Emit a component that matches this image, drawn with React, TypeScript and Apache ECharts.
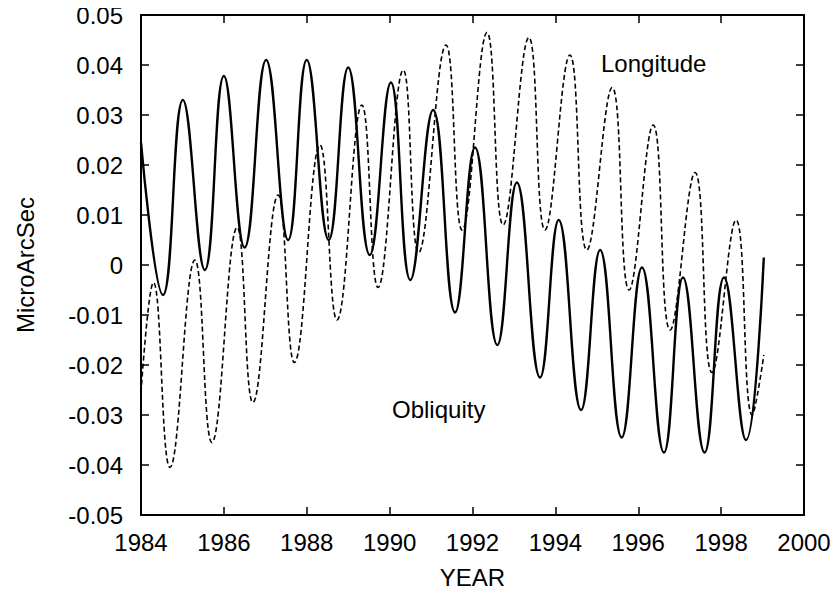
import React, { useEffect, useRef } from "react";
import * as echarts from "echarts";

const obliquityYears = [
  1984.0, 1984.53, 1985.01, 1985.54, 1986.0, 1986.5, 1987.02, 1987.55, 1988.0, 1988.53,
  1989.0, 1989.52, 1990.03, 1990.5, 1991.05, 1991.58, 1992.06, 1992.6, 1993.07, 1993.63,
  1994.08, 1994.62, 1995.08, 1995.6, 1996.09, 1996.62, 1997.08, 1997.6, 1998.07, 1998.6, 1999.03,
];
const obliquityValues = [
  0.0245, -0.006, 0.033, -0.001, 0.0378, 0.0035, 0.041, 0.005, 0.041, 0.005,
  0.0395, 0.002, 0.0365, -0.003, 0.031, -0.0095, 0.0235, -0.016, 0.0165, -0.0225,
  0.009, -0.029, 0.003, -0.0345, -0.0005, -0.0375, -0.0025, -0.0375, -0.0025, -0.035, 0.0015,
];

const longitudeYears = [
  1984.0, 1984.3, 1984.7, 1985.3, 1985.71, 1986.32, 1986.7, 1987.31, 1987.7, 1988.32,
  1988.73, 1989.33, 1989.72, 1990.33, 1990.7, 1991.36, 1991.75, 1992.35, 1992.74, 1993.36,
  1993.75, 1994.35, 1994.76, 1995.37, 1995.78, 1996.36, 1996.77, 1997.37, 1997.78, 1998.36,
  1998.75, 1999.03,
];
const longitudeValues = [
  -0.0255, -0.0035, -0.0405, 0.001, -0.0355, 0.0075, -0.0275, 0.014, -0.0195, 0.024,
  -0.011, 0.032, -0.0045, 0.039, 0.0025, 0.044, 0.007, 0.0465, 0.008, 0.0455,
  0.007, 0.042, 0.003, 0.0355, -0.005, 0.028, -0.013, 0.0185, -0.0215, 0.009,
  -0.03, -0.018,
];

const xTickYears = [1984, 1986, 1988, 1990, 1992, 1994, 1996, 1998, 2000];
const yTickValues = [-0.05, -0.04, -0.03, -0.02, -0.01, 0, 0.01, 0.02, 0.03, 0.04, 0.05];

const FONT = "'Liberation Sans', Arial, Helvetica, sans-serif";
const FS = 24;

export default function App() {
  const ref = useRef<HTMLDivElement>(null);
  useEffect(() => {
    if (!ref.current) return;
    const chart = echarts.init(ref.current, null, { renderer: "svg" });
    const xMin = xTickYears[0];
    const xMax = xTickYears[xTickYears.length - 1];
    const yMin = yTickValues[0];
    const yMax = yTickValues[yTickValues.length - 1];
    const tickCommon = { show: true, inside: true, length: 8, lineStyle: { color: "#000", width: 1.5 } };
    const lineCommon = { show: true, onZero: false, lineStyle: { color: "#000", width: 2 } };
    const fmtY = (v: number) => (Math.abs(v) < 1e-9 ? "0" : v.toFixed(2));
    chart.setOption({
      animation: false,
      backgroundColor: "#fff",
      textStyle: { fontFamily: FONT },
      grid: { left: 141, right: 34, top: 15, bottom: 79, containLabel: false },
      xAxis: [
        {
          type: "value",
          min: xMin,
          max: xMax,
          interval: 2,
          position: "bottom",
          name: "YEAR",
          nameLocation: "middle",
          nameGap: 50,
          nameTextStyle: { color: "#000", fontSize: FS, fontFamily: FONT },
          axisLine: lineCommon,
          axisTick: tickCommon,
          splitLine: { show: false },
          axisLabel: { color: "#000", fontSize: FS, fontFamily: FONT, margin: 15, formatter: (v: number) => String(Math.round(v)) },
        },
        {
          type: "value",
          min: xMin,
          max: xMax,
          interval: 2,
          position: "top",
          axisLine: lineCommon,
          axisTick: tickCommon,
          splitLine: { show: false },
          axisLabel: { show: false },
        },
      ],
      yAxis: [
        {
          type: "value",
          min: yMin,
          max: yMax,
          interval: 0.01,
          position: "left",
          name: "MicroArcSec",
          nameLocation: "middle",
          nameGap: 104,
          nameRotate: 90,
          nameTextStyle: { color: "#000", fontSize: FS, fontFamily: FONT },
          axisLine: lineCommon,
          axisTick: tickCommon,
          splitLine: { show: false },
          axisLabel: { color: "#000", fontSize: FS, fontFamily: FONT, margin: 18, formatter: fmtY },
        },
        {
          type: "value",
          min: yMin,
          max: yMax,
          interval: 0.01,
          position: "right",
          axisLine: lineCommon,
          axisTick: tickCommon,
          splitLine: { show: false },
          axisLabel: { show: false },
        },
      ],
      series: [
        {
          name: "Obliquity",
          type: "line",
          xAxisIndex: 0,
          yAxisIndex: 0,
          data: obliquityYears.map((y, i) => [y, obliquityValues[i]]),
          showSymbol: false,
          smooth: 0.45,
          lineStyle: { color: "#000", width: 2.4, type: "solid" },
        },
        {
          name: "Longitude",
          type: "line",
          xAxisIndex: 0,
          yAxisIndex: 0,
          data: longitudeYears.map((y, i) => [y, longitudeValues[i]]),
          showSymbol: false,
          smooth: 0.45,
          lineStyle: { color: "#000", width: 1.6, type: [5, 3] },
        },
      ],
      graphic: [
        {
          type: "text",
          left: 601,
          top: 51,
          style: { text: "Longitude", fill: "#000", font: `${FS}px ${FONT}` },
        },
        {
          type: "text",
          left: 392,
          top: 397,
          style: { text: "Obliquity", fill: "#000", font: `${FS}px ${FONT}` },
        },
      ],
    });
    return () => chart.dispose();
  }, []);
  return <div ref={ref} style={{ width: 838, height: 594, margin: -8 }} />;
}
